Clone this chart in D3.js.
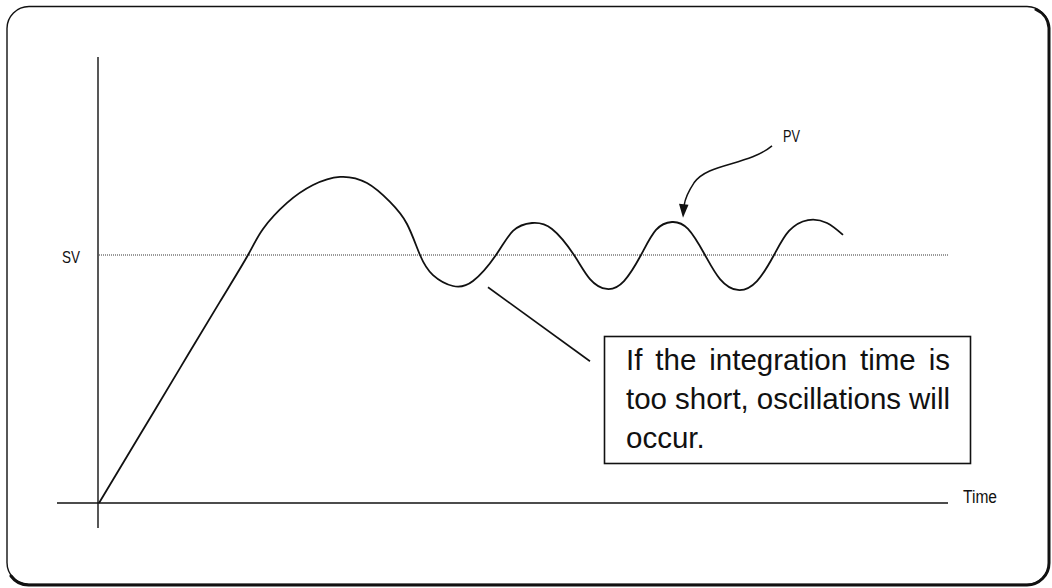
<!DOCTYPE html>
<html>
<head>
<meta charset="utf-8">
<script src="https://cdn.jsdelivr.net/npm/d3@7/dist/d3.min.js"></script>
<style>
  html, body { margin: 0; padding: 0; background: #fff; }
  svg { display: block; }
  text { font-family: "Liberation Sans", Arial, Helvetica, sans-serif; fill: #111; }
</style>
</head>
<body>
<svg id="chart" width="1052" height="588"></svg>
<script>
// Process value response over time (time in arbitrary units, PV relative to SV = 1)
const time = [0, 41, 81, 121, 149, 164, 188, 214, 241, 268, 291, 308, 321, 334, 354,
              374, 397, 414, 433, 453, 475, 491, 508, 525, 542, 557, 573, 589, 606,
              621, 639, 658, 675, 690, 709, 728, 744];
const pv   = [0, 0.275, 0.544, 0.812, 1.000, 1.105, 1.210, 1.282, 1.315, 1.290, 1.214,
              1.125, 1.000, 0.919, 0.875, 0.895, 1.000, 1.097, 1.129, 1.105, 1.000,
              0.903, 0.863, 0.895, 1.000, 1.101, 1.133, 1.105, 1.000, 0.903, 0.859,
              0.895, 1.000, 1.097, 1.141, 1.129, 1.081];
const setpoint = 1.0;
const timeDomain = [0, 850];
const pvDomain = [0, 1];

const svLabel = "SV";
const pvLabel = "PV";
const timeLabel = "Time";
const noteLines = ["If the integration time is", "too short, oscillations will", "occur."];

// Annotation anchors, in data units
const arrowTarget = { t: 584, v: 1.15 };
const calloutTarget = { t: 389, v: 0.87 };

const svg = d3.select("#chart");
const ink = "#111";

const x = d3.scaleLinear().domain(timeDomain).range([99, 949]);
const y = d3.scaleLinear().domain(pvDomain).range([503, 255]);

// Outer frame with heavier lower-right edge
svg.append("rect")
  .attr("x", 7).attr("y", 6.5).attr("width", 1042).attr("height", 578)
  .attr("rx", 22).attr("ry", 22)
  .attr("fill", "none").attr("stroke", ink).attr("stroke-width", 1.4);
svg.append("path")
  .attr("d", "M1036,9.5 A22,22 0 0 1 1049,28 L1049,563 A22,22 0 0 1 1027,585 L29,585 A22,22 0 0 1 11,576")
  .attr("fill", "none").attr("stroke", ink).attr("stroke-width", 3).attr("stroke-linecap", "round");

// Axes
svg.append("line")
  .attr("x1", x(0) - 1).attr("x2", x(0) - 1)
  .attr("y1", 57).attr("y2", y(0) + 25)
  .attr("stroke", ink).attr("stroke-width", 1.4);
svg.append("line")
  .attr("x1", x(0) - 42).attr("x2", x(timeDomain[1]) - 1)
  .attr("y1", y(0)).attr("y2", y(0))
  .attr("stroke", ink).attr("stroke-width", 1.4);

svg.append("text")
  .attr("x", x(timeDomain[1]) + 14).attr("y", y(0))
  .attr("font-size", 18).attr("textLength", 34).attr("lengthAdjust", "spacingAndGlyphs")
  .text(timeLabel);

// Set value line
svg.append("line")
  .attr("x1", x(0)).attr("x2", x(timeDomain[1]))
  .attr("y1", y(setpoint)).attr("y2", y(setpoint))
  .attr("stroke", "#333").attr("stroke-width", 1).attr("stroke-dasharray", "1,1");
svg.append("text")
  .attr("x", 62).attr("y", y(setpoint) + 8)
  .attr("font-size", 17).attr("textLength", 18).attr("lengthAdjust", "spacingAndGlyphs")
  .text(svLabel);

// PV curve
const pts = time.map((t, i) => [t, pv[i]]);
const line = d3.line()
  .x(d => x(d[0])).y(d => y(d[1]))
  .curve(d3.curveNatural);
svg.append("path")
  .attr("d", line(pts))
  .attr("fill", "none").attr("stroke", ink).attr("stroke-width", 1.8)
  .attr("stroke-linejoin", "round");

// PV arrow
const tx = x(arrowTarget.t), ty = y(arrowTarget.v);
svg.append("path")
  .attr("d", `M${tx + 89},${ty - 72} C${tx + 65},${ty - 52} ${tx + 25},${ty - 55} ${tx + 11},${ty - 35} C${tx + 5},${ty - 26} ${tx + 2},${ty - 19} ${tx + 1},${ty - 12}`)
  .attr("fill", "none").attr("stroke", ink).attr("stroke-width", 1.5);
svg.append("path")
  .attr("d", `M${tx},${ty} L${tx - 4},${ty - 14} L${tx + 5.5},${ty - 13} Z`)
  .attr("fill", ink);
svg.append("text")
  .attr("x", tx + 100).attr("y", ty - 76)
  .attr("font-size", 16).attr("textLength", 17).attr("lengthAdjust", "spacingAndGlyphs")
  .text(pvLabel);

// Callout
const cx = x(calloutTarget.t), cy = y(calloutTarget.v);
svg.append("line")
  .attr("x1", cx).attr("y1", cy)
  .attr("x2", cx + 102).attr("y2", cy + 74)
  .attr("stroke", ink).attr("stroke-width", 1.6);

const box = { x: 604.5, y: 336.5, w: 366, h: 127 };
svg.append("rect")
  .attr("x", box.x).attr("y", box.y).attr("width", box.w).attr("height", box.h)
  .attr("fill", "#fff").attr("stroke", ink).attr("stroke-width", 1.6);

const textLeft = 626, textWidth = 324;
noteLines.forEach((s, i) => {
  const t = svg.append("text")
    .attr("x", textLeft).attr("y", 370 + i * 39)
    .attr("font-size", 29.5)
    .text(s);
  // justify all but the final line
  if (i < noteLines.length - 1) {
    const natural = t.node().getComputedTextLength();
    const gaps = s.split(" ").length - 1;
    if (gaps > 0) t.attr("word-spacing", (textWidth - natural) / gaps);
  }
});
</script>
</body>
</html>
